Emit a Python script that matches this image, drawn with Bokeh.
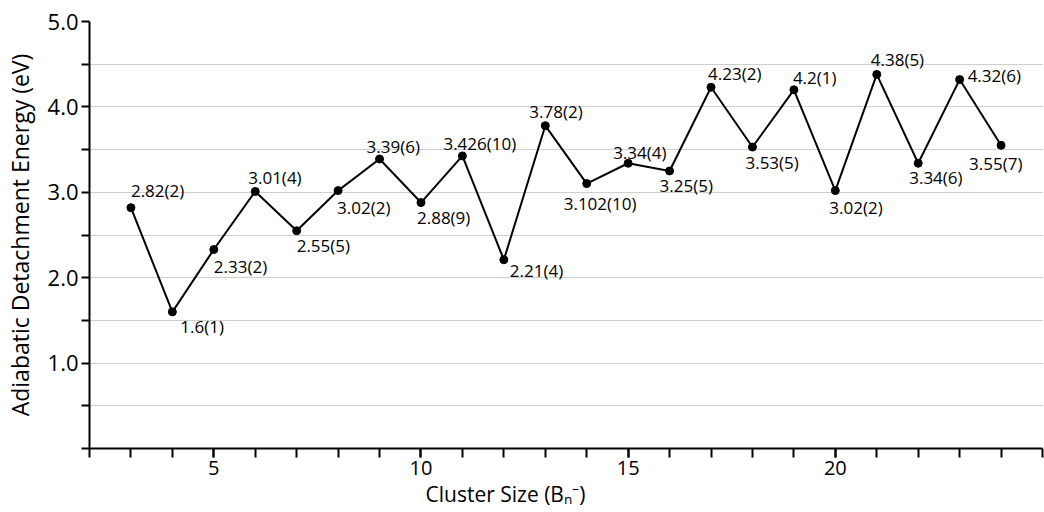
from bokeh.plotting import figure
from bokeh.models import Range1d, FixedTicker, PrintfTickFormatter, ColumnDataSource, Title
from bokeh.core.properties import value
from bokeh.embed import file_html
from bokeh.resources import INLINE

# ---- data ----
cluster_size = [3, 4, 5, 6, 7, 8, 9, 10, 11, 12, 13, 14, 15, 16, 17, 18, 19, 20, 21, 22, 23, 24]
ade = [2.82, 1.6, 2.33, 3.01, 2.55, 3.02, 3.39, 2.88, 3.426, 2.21, 3.78, 3.102,
       3.34, 3.25, 4.23, 3.53, 4.2, 3.02, 4.38, 3.34, 4.32, 3.55]
ade_labels = ["2.82(2)", "1.6(1)", "2.33(2)", "3.01(4)", "2.55(5)", "3.02(2)", "3.39(6)",
              "2.88(9)", "3.426(10)", "2.21(4)", "3.78(2)", "3.102(10)", "3.34(4)",
              "3.25(5)", "4.23(2)", "3.53(5)", "4.2(1)", "3.02(2)", "4.38(5)",
              "3.34(6)", "4.32(6)", "3.55(7)"]
x_major_ticks = [5, 10, 15, 20]
x_minor_ticks = list(range(2, 26))
y_major_ticks = [0, 1, 2, 3, 4, 5]
y_minor_ticks = [0.5, 1.5, 2.5, 3.5, 4.5]
y_grid_ticks = [0.5, 1, 1.5, 2, 2.5, 3, 3.5, 4, 4.5, 5]

# label placement (screen pixel offsets from each point)
label_dx = [0, 8, 0, -7, 0, -1, -13, -4, -19, 6, -16, -23, -15, -10, -3, -7, -1, -6, -6, -9, 8, -32]
label_dy = [-17, 15, 17, -14, 15, 17, -12, 15, -12, 11, -14, 20, -11, 15, -14, 15, -12, 17, -15, 14, -4, 18]

FONT = "Open Sans"

p = figure(width=1044, height=512, output_backend="svg", toolbar_location=None,
           x_range=Range1d(2, 25), y_range=Range1d(0, 5.0),
           min_border_left=89, min_border_right=2, min_border_top=21, min_border_bottom=64)
p.outline_line_color = None
p.background_fill_color = "white"
p.border_fill_color = "white"

# grid
p.xgrid.visible = False
p.ygrid.ticker = FixedTicker(ticks=y_grid_ticks)
p.ygrid.grid_line_color = "#cfcfcf"
p.ygrid.grid_line_width = 1
p.ygrid.bounds = (2, 24.55)

# x axis
xa = p.xaxis[0]
xa.ticker = FixedTicker(ticks=x_major_ticks, minor_ticks=x_minor_ticks)
xa.axis_line_width = 2
xa.axis_line_color = "black"
xa.major_tick_line_width = 2
xa.minor_tick_line_width = 2
xa.major_tick_out = 9
xa.minor_tick_out = 9
xa.major_tick_in = 0
xa.minor_tick_in = 0
xa.major_tick_line_color = "black"
xa.minor_tick_line_color = "black"
xa.major_label_text_font = FONT
xa.major_label_text_font_size = "20px"
xa.major_label_text_color = "black"
xa.major_label_standoff = 3

# y axis
ya = p.yaxis[0]
ya.ticker = FixedTicker(ticks=y_major_ticks, minor_ticks=y_minor_ticks)
ya.formatter = PrintfTickFormatter(format="%.1f")
ya.major_label_overrides = {0: ""}
ya.axis_line_width = 2
ya.axis_line_color = "black"
ya.major_tick_line_width = 2
ya.minor_tick_line_width = 2
ya.major_tick_out = 8
ya.minor_tick_out = 8
ya.major_tick_in = 0
ya.minor_tick_in = 0
ya.major_tick_line_color = "black"
ya.minor_tick_line_color = "black"
ya.major_label_text_font = FONT
ya.major_label_text_font_size = "22px"
ya.major_label_text_color = "black"
ya.major_label_standoff = 3
ya.axis_label = "Adiabatic Detachment Energy (eV)"
ya.axis_label_text_font = FONT
ya.axis_label_text_font_size = "23px"
ya.axis_label_text_font_style = "normal"
ya.axis_label_text_color = "black"
ya.axis_label_standoff = 9

src = ColumnDataSource(dict(x=cluster_size, y=ade, label=ade_labels, dx=label_dx, dy=label_dy))
p.line("x", "y", source=src, line_color="black", line_width=2)
p.scatter("x", "y", source=src, size=8, fill_color="black", line_color="black")
p.text("x", "y", text="label", source=src, x_offset="dx", y_offset="dy",
       text_font=value(FONT), text_font_size="17px", text_align="left",
       text_baseline="middle", text_color="black")

xlabel = Title(text="Cluster Size (B\u2099\u207b)", text_font=FONT, text_font_size="21px",
               text_font_style="normal", text_color="black", align="left",
               offset=336, standoff=0)
p.add_layout(xlabel, "below")

open("out.html", "w").write(file_html(p, INLINE))
